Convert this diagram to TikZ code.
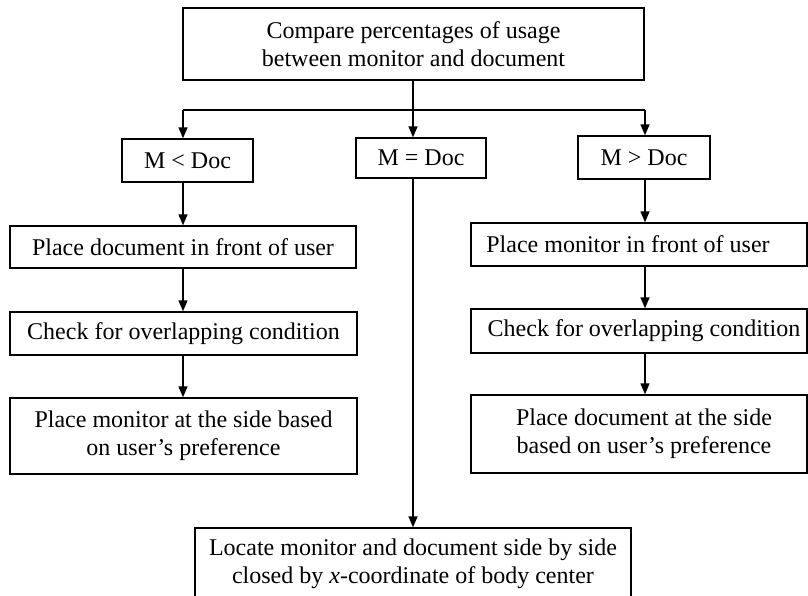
\documentclass[tikz,border=0pt]{standalone}
\usepackage{fontspec}
\setmainfont{Liberation Serif}
\usetikzlibrary{arrows.meta}
\begin{document}
\begin{tikzpicture}[x=1pt,y=-1pt,
  box/.style={draw, line width=1.4pt, inner sep=0pt, font=\fontsize{24}{28}\selectfont, align=center},
  conn/.style={line width=1.4pt, -{Triangle[length=11pt,width=9pt]}},
  ln/.style={line width=1.4pt}]
\useasboundingbox (0,0) rectangle (808,595);
\node[box, minimum width=461pt, minimum height=72pt] (top) at (413.5,44) {Compare percentages of usage\\between monitor and document};
\node[box, minimum width=131pt, minimum height=43pt] (lt) at (187.5,160.5) {M {<} Doc};
\node[box, minimum width=130pt, minimum height=40pt] (mid) at (421,158) {M = Doc};
\node[box, minimum width=132pt, minimum height=43pt] (rt) at (644,157.5) {M {>} Doc};
\node[box, minimum width=346pt, minimum height=42pt] (L1) at (183,247) {Place document in front of user};
\node[box, minimum width=347pt, minimum height=43pt] (L2) at (183.5,333.5) {Check for overlapping condition};
\node[box, minimum width=347pt, minimum height=76pt] (L3) at (183.5,436) {Place monitor at the side based\\on user’s preference};
\node[box, minimum width=336pt, minimum height=43pt] (R1) at (639,244.5) {Place monitor in front of user\hspace*{22pt}};
\node[box, minimum width=336pt, minimum height=44pt] (R2) at (639,331) {\hspace*{10pt}Check for overlapping condition};
\node[box, minimum width=336pt, minimum height=78pt] (R3) at (639,434) {\hspace*{10pt}Place document at the side\\\hspace*{10pt}based on user’s preference};
\node[box, minimum width=436pt, minimum height=72pt] (B) at (413,564) {Locate monitor and document side by side\\closed by \textit{x}-coordinate of body center};
\coordinate (bl) at (183,110);
\coordinate (br) at (645,110);
\coordinate (bm) at (413,110);
\draw[ln] (bl) -- (br);
\draw[conn] (top.south -| bm) -- (bm |- mid.north);
\draw[conn] (bl) -- (bl |- lt.north);
\draw[conn] (br) -- (br |- rt.north);
\draw[conn] (bl |- lt.south) -- (bl |- L1.north);
\draw[conn] (bl |- L1.south) -- (bl |- L2.north);
\draw[conn] (bl |- L2.south) -- (bl |- L3.north);
\draw[conn] (br |- rt.south) -- (br |- R1.north);
\draw[conn] (br |- R1.south) -- (br |- R2.north);
\draw[conn] (br |- R2.south) -- (br |- R3.north);
\draw[conn] (bm |- mid.south) -- (bm |- B.north);
\end{tikzpicture}
\end{document}
